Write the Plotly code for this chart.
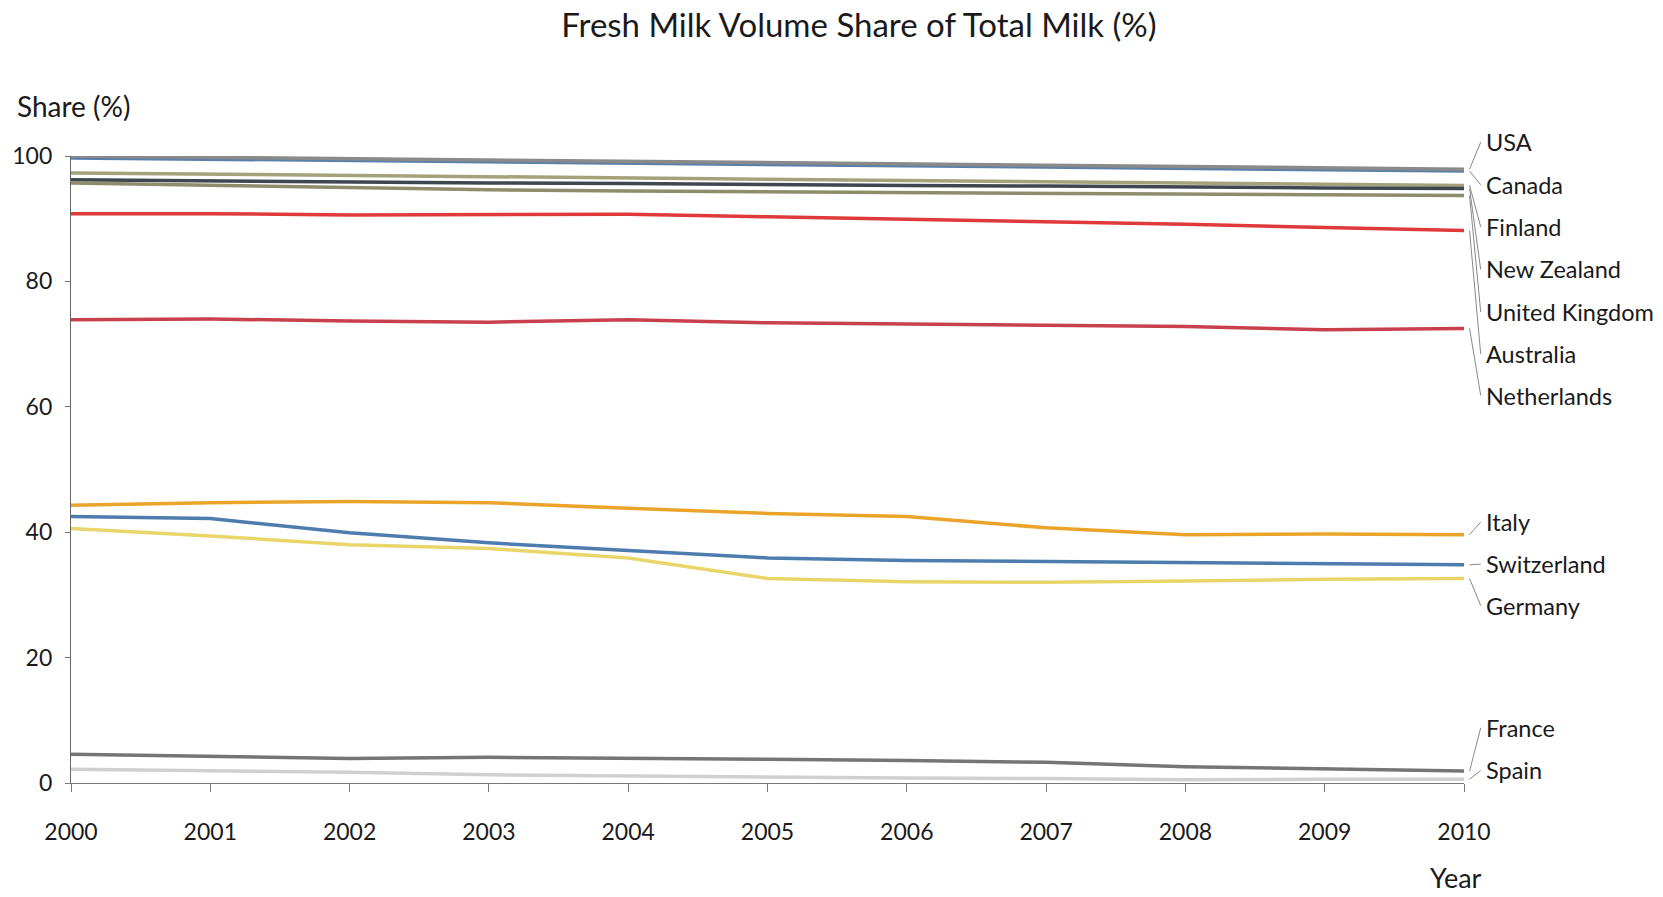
import plotly.graph_objects as go

years = list(range(2000, 2011))

countries = ["Canada", "USA", "Finland", "New Zealand", "United Kingdom",
             "Australia", "Netherlands", "Italy", "Switzerland", "Germany",
             "France", "Spain"]

usa = [100.0, 99.8, 99.6, 99.4, 99.2, 99.0, 98.8, 98.5, 98.3, 98.1, 97.9]
canada = [99.7, 99.5, 99.3, 99.1, 98.9, 98.7, 98.5, 98.3, 98.1, 97.9, 97.6]
finland = [97.3, 97.1, 96.9, 96.7, 96.5, 96.3, 96.1, 95.9, 95.7, 95.5, 95.3]
new_zealand = [96.2, 96.0, 95.9, 95.7, 95.6, 95.4, 95.3, 95.2, 95.0, 94.9, 94.8]
united_kingdom = [95.7, 95.3, 95.0, 94.6, 94.4, 94.3, 94.2, 94.1, 94.0, 93.8, 93.7]
australia = [90.8, 90.8, 90.6, 90.7, 90.7, 90.3, 89.9, 89.6, 89.1, 88.6, 88.1]
netherlands = [73.9, 74.0, 73.7, 73.5, 73.9, 73.4, 73.2, 73.0, 72.8, 72.3, 72.5]
italy = [44.3, 44.7, 44.9, 44.7, 43.8, 43.0, 42.5, 40.7, 39.6, 39.7, 39.6]
switzerland = [42.5, 42.2, 39.9, 38.3, 37.1, 35.9, 35.5, 35.3, 35.2, 34.9, 34.8]
germany = [40.6, 39.4, 38.0, 37.4, 35.9, 32.6, 32.1, 32.0, 32.2, 32.5, 32.6]
france = [4.6, 4.3, 3.9, 4.1, 4.0, 3.8, 3.6, 3.3, 2.6, 2.3, 1.9]
spain = [2.2, 2.0, 1.7, 1.3, 1.1, 0.9, 0.8, 0.7, 0.5, 0.6, 0.6]

series = {
    "Canada": canada, "USA": usa, "Finland": finland, "New Zealand": new_zealand,
    "United Kingdom": united_kingdom, "Australia": australia,
    "Netherlands": netherlands, "Italy": italy, "Switzerland": switzerland,
    "Germany": germany, "France": france, "Spain": spain,
}

colors = {
    "Canada": "#5b7fa8", "USA": "#8a8a8a", "Finland": "#a3a27a",
    "New Zealand": "#3f4650", "United Kingdom": "#8d8d6c",
    "Australia": "#e0393a", "Netherlands": "#c8404c", "Italy": "#eba42a",
    "Switzerland": "#4d7cae", "Germany": "#ead56a", "France": "#757575",
    "Spain": "#d0d0d0",
}

# label order and vertical label slots (share units)
label_order = ["USA", "Canada", "Finland", "New Zealand", "United Kingdom",
               "Australia", "Netherlands", "Italy", "Switzerland", "Germany",
               "France", "Spain"]
label_pos = [102.2, 95.4, 88.7, 81.9, 75.1, 68.4, 61.8, 41.6, 34.9, 28.3, 8.8, 2.0]

FONT = "Lato, 'Open Sans', sans-serif"

fig = go.Figure()
for name in countries:
    fig.add_trace(go.Scatter(
        x=years, y=series[name], mode="lines", name=name,
        line=dict(color=colors[name], width=3.5), showlegend=False,
        cliponaxis=False,
    ))

shapes = []
annotations = []
for name, ly in zip(label_order, label_pos):
    end_v = series[name][-1]
    shapes.append(dict(type="line", xref="paper", yref="paper",
                       x0=1.004, y0=end_v / 100.0, x1=1.012, y1=ly / 100.0,
                       line=dict(color="#888888", width=1)))
    annotations.append(dict(text=name, xref="paper", yref="paper",
                            x=1.014, y=ly / 100.0, xanchor="left",
                            yanchor="middle", showarrow=False,
                            font=dict(size=23.5, color="#1a1a1a", family=FONT)))

annotations.append(dict(text="Share (%)", xref="paper", yref="paper",
                        x=-0.0400, y=1.0797, xanchor="left", yanchor="middle",
                        showarrow=False,
                        font=dict(size=28, color="#1a1a1a", family=FONT)))
annotations.append(dict(text="Year", xref="paper", yref="paper",
                        x=0.994, y=-0.150, xanchor="center", yanchor="middle",
                        showarrow=False,
                        font=dict(size=27, color="#1a1a1a", family=FONT)))

fig.update_layout(
    width=1663, height=897,
    margin=dict(l=69, r=199, t=156, b=114),
    paper_bgcolor="white", plot_bgcolor="white",
    title=dict(text="Fresh Milk Volume Share of Total Milk (%)",
               x=0.5165, xref="container", xanchor="center",
               y=0.972, yref="container", yanchor="middle",
               font=dict(size=33, color="#1a1a1a", family=FONT)),
    shapes=shapes,
    annotations=annotations,
    font=dict(family=FONT, color="#1a1a1a"),
)

fig.update_xaxes(range=[2000, 2010], tickmode="array", tickvals=years,
                 ticktext=[str(y) for y in years],
                 showgrid=False, zeroline=False, showline=True,
                 linecolor="#777777", linewidth=1.2, ticks="outside",
                 ticklen=8, tickcolor="#777777", ticklabelstandoff=20,
                 tickfont=dict(size=23, color="#1a1a1a", family=FONT))
fig.update_yaxes(range=[0, 100], tickvals=[0, 20, 40, 60, 80, 100],
                 showgrid=False, zeroline=False, showline=True,
                 linecolor="#666666", linewidth=1.2, ticks="outside",
                 ticklen=5, tickcolor="#777777", ticklabelstandoff=8,
                 tickfont=dict(size=23, color="#1a1a1a", family=FONT))

fig.write_html("out.html")
